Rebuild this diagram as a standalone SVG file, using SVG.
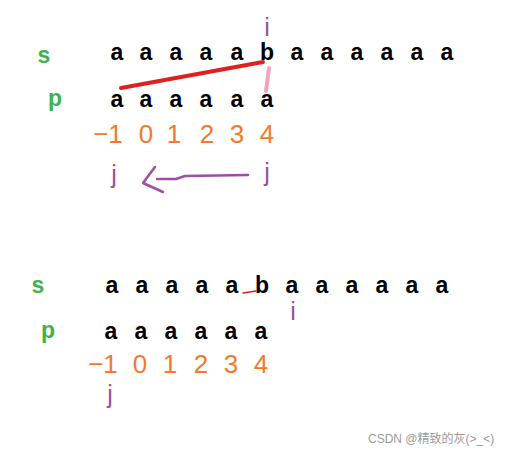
<svg xmlns="http://www.w3.org/2000/svg" width="510" height="455" viewBox="0 0 510 455">
<style>
.ch{font-family:"Liberation Sans",Arial,sans-serif;font-size:23px;font-weight:bold;fill:#000;text-anchor:middle}
.lb{font-family:"Liberation Sans",Arial,sans-serif;font-size:23px;font-weight:bold;fill:#3cb44b;text-anchor:middle}
.num{font-family:"Liberation Sans",Arial,sans-serif;font-size:26px;fill:#f47a2a;text-anchor:middle}
.ptr{font-family:"Liberation Sans",Arial,sans-serif;font-size:25px;fill:#9b4fa5;text-anchor:middle}
.wm{font-family:"Liberation Sans","Noto Sans CJK SC",sans-serif;font-size:12px;fill:#9a9a9a}
</style>
<rect width="510" height="455" fill="#fff"/>
<g id="top">
  <text class="lb" x="44" y="63">s</text>
  <text class="ch" y="60"><tspan x="117">a</tspan><tspan x="146">a</tspan><tspan x="176">a</tspan><tspan x="206">a</tspan><tspan x="237">a</tspan><tspan x="267">b</tspan><tspan x="297">a</tspan><tspan x="327">a</tspan><tspan x="357">a</tspan><tspan x="387">a</tspan><tspan x="417">a</tspan><tspan x="447">a</tspan></text>
  <text class="ptr" x="267" y="36">i</text>
  <text class="lb" x="55" y="106">p</text>
  <text class="ch" y="107"><tspan x="117">a</tspan><tspan x="146">a</tspan><tspan x="176">a</tspan><tspan x="206">a</tspan><tspan x="237">a</tspan><tspan x="267">a</tspan></text>
  <text class="num" y="143"><tspan x="108">−1</tspan><tspan x="146">0</tspan><tspan x="174">1</tspan><tspan x="207">2</tspan><tspan x="237">3</tspan><tspan x="267">4</tspan></text>
  <text class="ptr" x="114" y="183">j</text>
  <text class="ptr" x="267" y="181">j</text>
</g>
<g id="bottom">
  <text class="lb" x="38" y="293">s</text>
  <text class="ch" y="293"><tspan x="112">a</tspan><tspan x="142">a</tspan><tspan x="172">a</tspan><tspan x="202">a</tspan><tspan x="232">a</tspan><tspan x="262">b</tspan><tspan x="292">a</tspan><tspan x="322">a</tspan><tspan x="352">a</tspan><tspan x="382">a</tspan><tspan x="412">a</tspan><tspan x="442">a</tspan></text>
  <text class="ptr" x="293" y="320">i</text>
  <text class="lb" x="48" y="338">p</text>
  <text class="ch" y="339"><tspan x="111">a</tspan><tspan x="141">a</tspan><tspan x="171">a</tspan><tspan x="201">a</tspan><tspan x="231">a</tspan><tspan x="261">a</tspan></text>
  <text class="num" y="373"><tspan x="103">−1</tspan><tspan x="140">0</tspan><tspan x="170">1</tspan><tspan x="201">2</tspan><tspan x="231">3</tspan><tspan x="261">4</tspan></text>
  <text class="ptr" x="110" y="403">j</text>
</g>
<g id="connectors" fill="none" stroke-linecap="round" stroke-linejoin="round">
  <path d="M121 88 L263 62" stroke="#e0201f" stroke-width="4"/>
  <path d="M269 68 L266 91" stroke="#f4a3bd" stroke-width="4"/>
  <path d="M248 175 L185 176 L176 179 L157 179" stroke="#9b4fa5" stroke-width="2.5"/>
  <path d="M155 167 L143 183 L163 192" stroke="#9b4fa5" stroke-width="2.5"/>
  <path d="M243 293 L256 291" stroke="#e0201f" stroke-width="1.5"/>
</g>
<text class="wm" x="368" y="443">CSDN @精致的灰(&gt;_&lt;)</text>
</svg>
